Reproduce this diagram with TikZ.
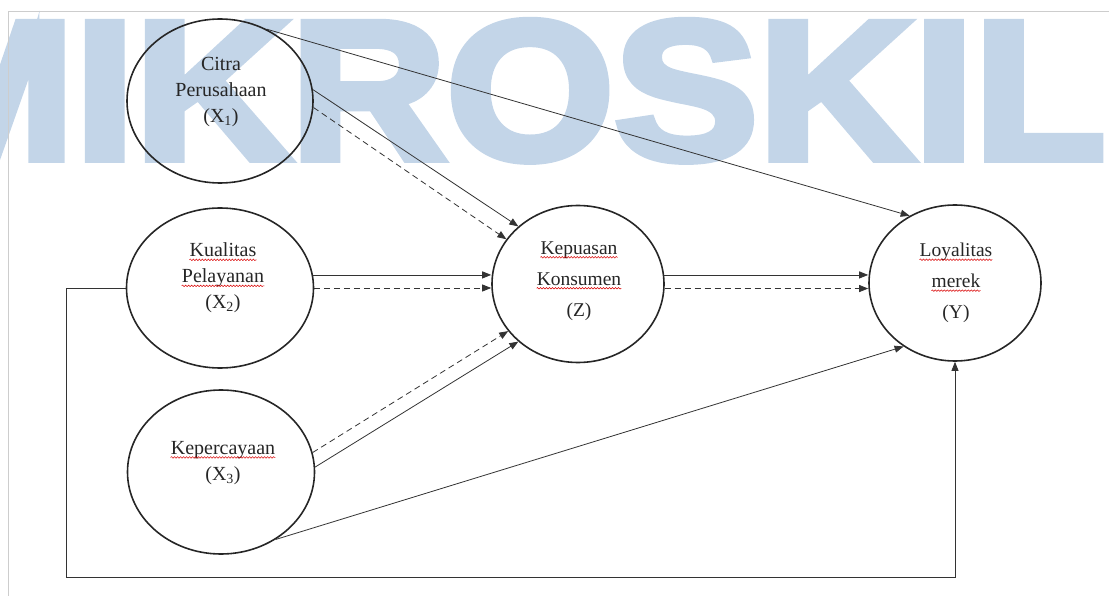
\documentclass[tikz,border=0pt]{standalone}
\usepackage{fontspec}
\setmainfont{Liberation Serif}
\newfontfamily\wmfont[FakeBold=4]{Liberation Sans Bold}
\usetikzlibrary{shapes.geometric,arrows.meta,decorations.pathmorphing}
\definecolor{wmblue}{RGB}{195,213,232}
\definecolor{framegray}{RGB}{205,205,205}
% red spell-check wave under a word
\newcommand\spellwave[1]{\tikz[baseline=(w.base)]{\node[inner sep=0pt] (w) {#1};
  \draw[red!85!black, line width=0.5pt, decorate, decoration={snake, amplitude=0.8pt, segment length=3pt}]
    ([yshift=-3pt]w.base west) -- ([yshift=-3pt]w.base east);}}
\begin{document}
\begin{tikzpicture}[x=1pt, y=-1pt,
  >={Triangle[length=9pt,width=7pt]},
  var/.style={draw=black!85, line width=1.6pt, ellipse, inner sep=0pt},
  lbl/.style={align=center, inner sep=0pt, text=black!85, font=\fontsize{20}{26}\selectfont},
  lblz/.style={lbl, font=\fontsize{19.5}{31}\selectfont},
  link/.style={->, line width=0.8pt, black!80},
  dlink/.style={link, dash pattern=on 6pt off 4pt}]
\useasboundingbox (0,0) rectangle (1109,596);
% watermark and page frame
\node[font=\wmfont\fontsize{198}{198}\selectfont, text=wmblue, anchor=base east, inner sep=0pt] (wm) at (1106,159) {\scalebox{1.09}[1]{MIKROSKIL}};
\draw[framegray, line width=0.8pt] (1109,11) -- (8,11) -- (8,596);
% variables
\node[var, minimum width=186pt, minimum height=164pt] (x1) at (220,101) {};
\node[lbl] (x1t) at (221,92) {Citra\\Perusahaan\\(X\textsubscript{1})};
\node[var, minimum width=187pt, minimum height=160pt] (x2) at (220,288) {};
\node[lbl] (x2t) at (223,278) {\spellwave{Kualitas}\\\spellwave{Pelayanan}\\(X\textsubscript{2})};
\node[var, minimum width=187pt, minimum height=164pt] (x3) at (221,472) {};
\node[lbl] (x3t) at (223,463) {\spellwave{Kepercayaan}\\(X\textsubscript{3})};
\node[var, minimum width=172pt, minimum height=157pt] (z) at (578,284) {};
\node[lblz] (zt) at (579,281) {\spellwave{Kepuasan}\\\spellwave{Konsumen}\\(Z)};
\node[var, minimum width=172pt, minimum height=156pt] (y) at (955,283) {};
\node[lblz] (yt) at (956,283) {\spellwave{Loyalitas}\\\spellwave{merek}\\(Y)};
% paths
\draw[link] (x1.57) -- (y.124);
\draw[link] (x1.7) -- (z.136);
\draw[dlink] (x1.-4) -- (z.148);
\draw[link] (x2.8) -- (x2.8 -| z.west);
\draw[dlink] (x2.east) -- (x2.east -| z.west);
\draw[dlink] (x3.12) -- (z.214);
\draw[link] (x3.3) -- (z.224);
\draw[link] (x3.-51) -- (y.231);
\draw[link] (z.6) -- (z.6 -| y.west);
\draw[dlink] (z.-3) -- (z.-3 -| y.west);
\coordinate (lb) at (66,577);
\draw[link] (x2.west) -- (x2.west -| lb) -- (lb) -| (y.south);
\end{tikzpicture}
\end{document}
